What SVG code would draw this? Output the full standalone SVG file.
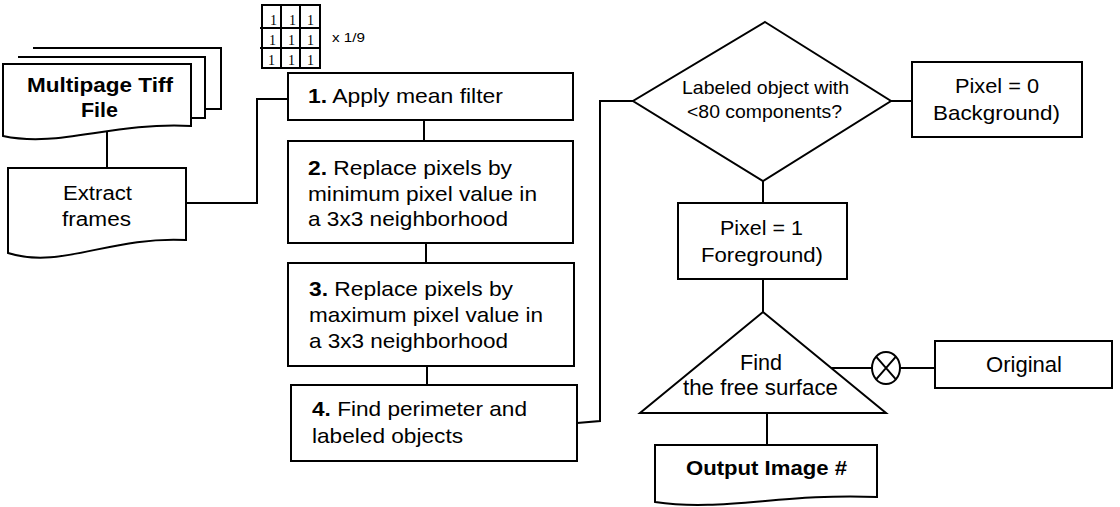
<svg xmlns="http://www.w3.org/2000/svg" width="1120" height="507" viewBox="0 0 1120 507">
<style>
.s{fill:#fff;stroke:#000;stroke-width:2}
.c{fill:none;stroke:#000;stroke-width:2}
.t{font-family:"Liberation Sans",Arial,sans-serif;font-size:21px;fill:#000}
.d{font-family:"Liberation Sans",Arial,sans-serif;font-size:18.5px;fill:#000}
.b{font-weight:bold}
.m{font-family:"Liberation Serif","Times New Roman",serif;font-size:14px;fill:#000;text-anchor:end}
</style>
<rect width="1120" height="507" fill="#fff"/>
<g id="connectors">
<path class="c" d="M107,131 V168"/>
<path class="c" d="M186,203 H257 V99 H288"/>
<path class="c" d="M424,120 V141"/>
<path class="c" d="M426,243 V263"/>
<path class="c" d="M427,366 V385"/>
<path class="c" d="M577,423 L600,421 V101 H633"/>
<path class="c" d="M891,101 H912"/>
<path class="c" d="M763,181 V203"/>
<path class="c" d="M763,279 V312"/>
<path class="c" d="M831,368 H872"/>
<path class="c" d="M900,368 H935"/>
<path class="c" d="M767,413 V445"/>
</g>
<g id="multipage">
<path class="s" d="M33,48 H221 V109 H205"/>
<path class="s" d="M18,57 H205 V118 H191"/>
<path class="s" d="M3,64 H191 V126 C110,122 60,148 3,136 Z"/>
<text class="t b" x="27" y="92" style="font-size:19.5px" textLength="146" lengthAdjust="spacingAndGlyphs">Multipage Tiff</text>
<text class="t b" x="81" y="117" style="font-size:19.5px" textLength="37" lengthAdjust="spacingAndGlyphs">File</text>
</g>
<g id="extract">
<path class="s" d="M8,168 H186 V240 C109,236 61,270 8,253 Z"/>
<text class="t" x="63" y="200" style="font-size:20px" textLength="69" lengthAdjust="spacingAndGlyphs">Extract</text>
<text class="t" x="62" y="226" style="font-size:20px" textLength="69" lengthAdjust="spacingAndGlyphs">frames</text>
</g>
<g id="kernel">
<rect x="262" y="5" width="58" height="63" fill="#fff" stroke="#000" stroke-width="2"/>
<path class="c" d="M281,5 V68 M300,5 V68 M260,28 H320 M260,48 H320"/>
<text class="m" x="277" y="25">1</text><text class="m" x="296" y="25">1</text><text class="m" x="314" y="25">1</text>
<text class="m" x="276" y="45">1</text><text class="m" x="295" y="45">1</text><text class="m" x="314" y="45">1</text>
<text class="m" x="275" y="65">1</text><text class="m" x="295" y="65">1</text><text class="m" x="314" y="65">1</text>
<text class="t" x="332" y="42" style="font-size:13px" textLength="33" lengthAdjust="spacingAndGlyphs">x  1/9</text>
</g>
<g id="step1">
<rect class="s" x="288" y="73" width="285" height="47"/>
<text class="t" x="308" y="103" textLength="195" lengthAdjust="spacingAndGlyphs"><tspan class="b">1.</tspan> Apply mean filter</text>
</g>
<g id="step2">
<rect class="s" x="288" y="141" width="285" height="102"/>
<text class="t" x="308" y="175" textLength="204" lengthAdjust="spacingAndGlyphs"><tspan class="b">2.</tspan> Replace pixels by</text>
<text class="t" x="308" y="200.5" textLength="229" lengthAdjust="spacingAndGlyphs">minimum pixel value in</text>
<text class="t" x="308" y="226" textLength="200" lengthAdjust="spacingAndGlyphs">a 3x3 neighborhood</text>
</g>
<g id="step3">
<rect class="s" x="288" y="263" width="286" height="103"/>
<text class="t" x="309" y="296" textLength="204" lengthAdjust="spacingAndGlyphs"><tspan class="b">3.</tspan> Replace pixels by</text>
<text class="t" x="309" y="322" textLength="234" lengthAdjust="spacingAndGlyphs">maximum pixel value in</text>
<text class="t" x="309" y="348" textLength="199" lengthAdjust="spacingAndGlyphs">a 3x3 neighborhood</text>
</g>
<g id="step4">
<rect class="s" x="291" y="385" width="286" height="76"/>
<text class="t" x="312" y="416" textLength="215" lengthAdjust="spacingAndGlyphs"><tspan class="b">4.</tspan> Find perimeter and</text>
<text class="t" x="312" y="443" textLength="151" lengthAdjust="spacingAndGlyphs">labeled objects</text>
</g>
<g id="decision">
<path class="s" d="M765,22 L891,101 L763,181 L633,101 Z"/>
<text class="d" x="682" y="94" textLength="167" lengthAdjust="spacingAndGlyphs">Labeled object with</text>
<text class="d" x="687" y="118" textLength="155" lengthAdjust="spacingAndGlyphs">&lt;80 components?</text>
</g>
<g id="background">
<rect class="s" x="912" y="62" width="170" height="75"/>
<text class="t" x="955" y="93" textLength="84" lengthAdjust="spacingAndGlyphs">Pixel = 0</text>
<text class="t" x="933" y="120" textLength="127" lengthAdjust="spacingAndGlyphs">Background)</text>
</g>
<g id="foreground">
<rect class="s" x="678" y="203" width="169" height="76"/>
<text class="t" x="720" y="235" textLength="83" lengthAdjust="spacingAndGlyphs">Pixel = 1</text>
<text class="t" x="701" y="262" textLength="122" lengthAdjust="spacingAndGlyphs">Foreground)</text>
</g>
<g id="freesurface">
<path class="s" d="M763,312 L886,413 L640,413 Z"/>
<text class="t" x="740" y="370" style="font-size:22px" textLength="42" lengthAdjust="spacingAndGlyphs">Find</text>
<text class="t" x="683" y="395" style="font-size:22px" textLength="155" lengthAdjust="spacingAndGlyphs">the free surface</text>
</g>
<g id="multiply">
<ellipse class="s" cx="886" cy="368" rx="14" ry="16"/>
<path class="c" d="M876.1,356.7 L895.9,379.3 M895.9,356.7 L876.1,379.3"/>
</g>
<g id="original">
<rect class="s" x="935" y="341" width="177" height="47"/>
<text class="t" x="986" y="372" style="font-size:22px" textLength="76" lengthAdjust="spacingAndGlyphs">Original</text>
</g>
<g id="output">
<path class="s" d="M655,445 H877 V497 C782,493 722,512 655,502 Z"/>
<text class="t b" x="686" y="475" textLength="161" lengthAdjust="spacingAndGlyphs">Output Image #</text>
</g>
</svg>
